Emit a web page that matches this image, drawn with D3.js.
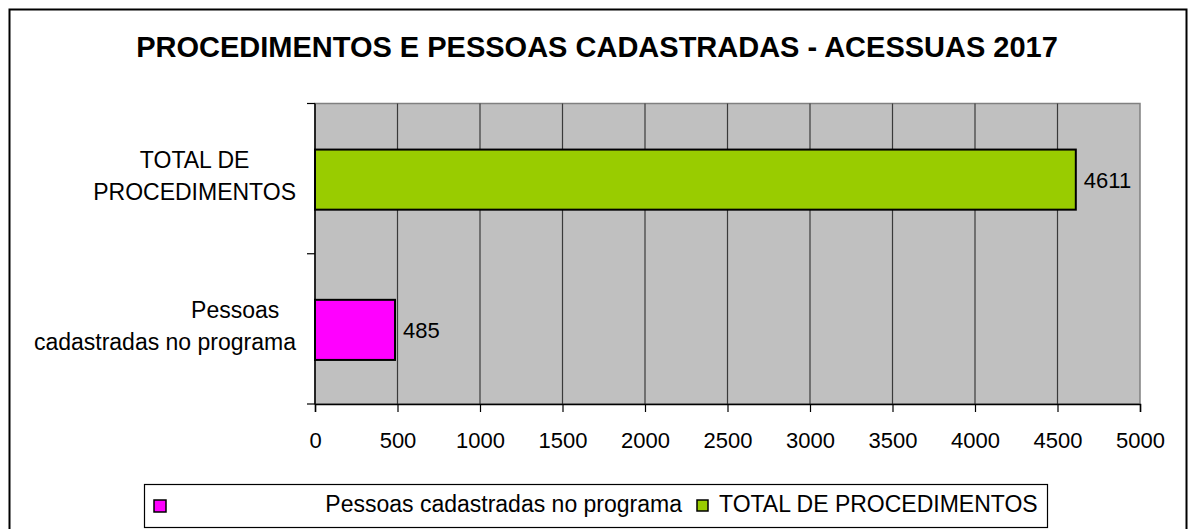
<!DOCTYPE html>
<html>
<head>
<meta charset="utf-8">
<script src="https://cdn.jsdelivr.net/npm/d3@7"></script>
<style>
  body { margin: 0; background: #fff; }
  text { font-family: "Liberation Sans", Arial, sans-serif; fill: #000; }
</style>
</head>
<body>
<script>
// chart data
var title = "PROCEDIMENTOS E PESSOAS CADASTRADAS - ACESSUAS 2017";
var categories = ["TOTAL DE PROCEDIMENTOS", "Pessoas cadastradas no programa"];
var categoryLines = [
  ["TOTAL DE", "PROCEDIMENTOS"],
  ["\u00a0\u00a0\u00a0\u00a0\u00a0\u00a0\u00a0\u00a0\u00a0\u00a0\u00a0\u00a0\u00a0\u00a0\u00a0\u00a0\u00a0\u00a0\u00a0\u00a0\u00a0\u00a0Pessoas", "cadastradas no programa"]
];
var values = [4611, 485];
var colors = ["#99cc00", "#ff00ff"];
var xTicks = [0, 500, 1000, 1500, 2000, 2500, 3000, 3500, 4000, 4500, 5000];
var legendItems = ["Pessoas cadastradas no programa", "TOTAL DE PROCEDIMENTOS"];
var legendColors = ["#ff00ff", "#99cc00"];

var width = 1188, height = 529;
var plot = {left: 315, right: 1140, top: 103.5, bottom: 404};

var svg = d3.select("body").append("svg")
    .attr("width", width)
    .attr("height", height);

// outer frame
svg.append("rect")
    .attr("x", 9.5).attr("y", 9.5)
    .attr("width", 1177).attr("height", 540)
    .attr("fill", "none")
    .attr("stroke", "#000")
    .attr("stroke-width", 2);

svg.append("text")
    .attr("x", 597).attr("y", 57)
    .attr("text-anchor", "middle")
    .style("font-size", "29px")
    .style("font-weight", "bold")
    .text(title);

var x = d3.scaleLinear().domain([0, 5000]).range([plot.left, plot.right]);
var y = d3.scaleBand().domain(categories)
    .range([plot.top, plot.bottom])
    .paddingInner(0.6).paddingOuter(0.3);

// plot background
svg.append("rect")
    .attr("x", plot.left).attr("y", plot.top)
    .attr("width", plot.right - plot.left).attr("height", plot.bottom - plot.top)
    .attr("fill", "#c0c0c0")
    .attr("stroke", "#808080")
    .attr("stroke-width", 1.5);

// vertical gridlines
svg.append("g").selectAll("line")
    .data(xTicks.slice(1, -1))
    .enter().append("line")
    .attr("x1", function(d) { return x(d); })
    .attr("x2", function(d) { return x(d); })
    .attr("y1", plot.top).attr("y2", plot.bottom)
    .attr("stroke", "#3a3a3a")
    .attr("stroke-width", 1.2);

// bars
svg.append("g").selectAll("rect")
    .data(categories)
    .enter().append("rect")
    .attr("x", x(0))
    .attr("y", function(d) { return y(d) + 1; })
    .attr("width", function(d, i) { return x(values[i]) - x(0); })
    .attr("height", y.bandwidth())
    .attr("fill", function(d, i) { return colors[i]; })
    .attr("stroke", "#000")
    .attr("stroke-width", 2);

// value labels
svg.append("g").selectAll("text")
    .data(categories)
    .enter().append("text")
    .attr("x", function(d, i) { return x(values[i]) + 8; })
    .attr("y", function(d) { return y(d) + y.bandwidth() / 2 + 9; })
    .style("font-size", "22px")
    .text(function(d, i) { return values[i]; });

// x axis
var xAxis = svg.append("g")
    .attr("transform", "translate(0," + plot.bottom + ")")
    .call(d3.axisBottom(x).tickValues(xTicks).tickSize(8).tickPadding(20).tickFormat(d3.format("d")));
xAxis.select(".domain").attr("stroke", "#000").attr("stroke-width", 1.5);
xAxis.selectAll(".tick line").attr("stroke", "#000").attr("stroke-width", 1.2);
xAxis.selectAll(".tick text")
    .style("font-size", "22px")
    .style("font-family", "'Liberation Sans', Arial, sans-serif")
    .attr("fill", "#000");

// y axis (category boundaries)
var bounds = [plot.top, (plot.top + plot.bottom) / 2, plot.bottom];
svg.append("line")
    .attr("x1", plot.left).attr("x2", plot.left)
    .attr("y1", plot.top).attr("y2", plot.bottom)
    .attr("stroke", "#000").attr("stroke-width", 1.5);
svg.append("g").selectAll("line")
    .data(bounds)
    .enter().append("line")
    .attr("x1", plot.left - 8).attr("x2", plot.left)
    .attr("y1", function(d) { return d; }).attr("y2", function(d) { return d; })
    .attr("stroke", "#000").attr("stroke-width", 1.2);

// category labels: lines centered inside a block right-aligned to the axis
var labelRight = 296;
categories.forEach(function(c, i) {
  var cy = y(c) + y.bandwidth() / 2;
  var g = svg.append("g");
  var texts = g.selectAll("text")
      .data(categoryLines[i])
      .enter().append("text")
      .attr("y", function(d, j) { return cy - 11 + j * 32; })
      .attr("text-anchor", "middle")
      .style("font-size", "23px")
      .text(function(d) { return d; });
  var maxW = 0;
  texts.each(function() { maxW = Math.max(maxW, this.getComputedTextLength()); });
  texts.attr("x", labelRight - maxW / 2);
});

// legend
svg.append("rect")
    .attr("x", 144.5).attr("y", 484.5)
    .attr("width", 903).attr("height", 43)
    .attr("fill", "#fff")
    .attr("stroke", "#000")
    .attr("stroke-width", 1.2);

svg.append("rect")
    .attr("x", 154).attr("y", 500)
    .attr("width", 12).attr("height", 12)
    .attr("fill", legendColors[0])
    .attr("stroke", "#000").attr("stroke-width", 1.5);
svg.append("text")
    .attr("x", 682).attr("y", 512)
    .attr("text-anchor", "end")
    .style("font-size", "23px")
    .text(legendItems[0]);

svg.append("rect")
    .attr("x", 697).attr("y", 500)
    .attr("width", 11).attr("height", 11)
    .attr("fill", legendColors[1])
    .attr("stroke", "#000").attr("stroke-width", 1.5);
svg.append("text")
    .attr("x", 719).attr("y", 512)
    .style("font-size", "23px")
    .text(legendItems[1]);
</script>
</body>
</html>
